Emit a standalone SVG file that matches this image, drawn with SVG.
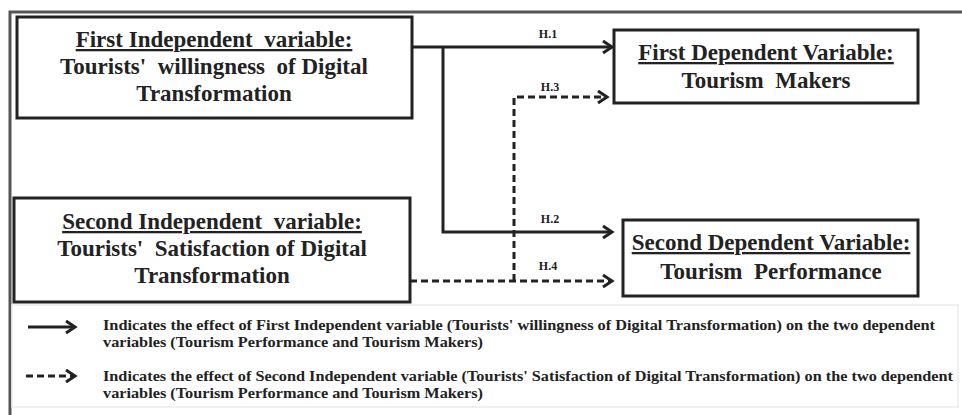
<svg xmlns="http://www.w3.org/2000/svg" width="962" height="415" viewBox="0 0 962 415">
  <style>
    .box{fill:#fff;stroke:#222;stroke-width:3}
    .t{font-family:"Liberation Serif","Times New Roman",serif;font-weight:bold;fill:#222;text-anchor:middle;white-space:pre}
    .big{font-size:23px}
    .u{text-decoration:underline}
    .lbl{font-size:12px}
    .leg{font-size:14px;text-anchor:start}
    .solid{fill:none;stroke:#222;stroke-width:3}
    .dash{fill:none;stroke:#222;stroke-width:3;stroke-dasharray:7 4}
  </style>
  <defs>
    <marker id="ah" markerWidth="14" markerHeight="14" refX="11" refY="7" orient="auto" markerUnits="userSpaceOnUse">
      <path d="M2,1 L11,7 L2,13" fill="none" stroke="#222" stroke-width="3"/>
    </marker>
  </defs>

  <rect width="962" height="415" fill="#fff"/>
  <!-- outer frame -->
  <path d="M10,415 V12 H962" fill="none" stroke="#555" stroke-width="3"/>
  <!-- legend panel -->
  <rect x="12" y="305" width="946" height="102" fill="none" stroke="#ececec" stroke-width="1.5"/>

  <g id="iv1">
    <rect class="box" x="17" y="17" width="395" height="101"/>
    <text class="t big u" x="214" y="47" xml:space="preserve">First Independent  variable:</text>
    <text class="t big" x="214" y="74" xml:space="preserve">Tourists'  willingness  of Digital</text>
    <text class="t big" x="214" y="101">Transformation</text>
  </g>

  <g id="dv1">
    <rect class="box" x="614" y="30" width="304" height="73"/>
    <text class="t big u" x="766" y="60">First Dependent Variable:</text>
    <text class="t big" x="766" y="88" xml:space="preserve">Tourism  Makers</text>
  </g>

  <g id="iv2">
    <rect class="box" x="14" y="198" width="396" height="104"/>
    <text class="t big u" x="212" y="229" xml:space="preserve">Second Independent  variable:</text>
    <text class="t big" x="212" y="256" xml:space="preserve">Tourists'  Satisfaction of Digital</text>
    <text class="t big" x="212" y="283">Transformation</text>
  </g>

  <g id="dv2">
    <rect class="box" x="623" y="220" width="295" height="76"/>
    <text class="t big u" x="771" y="250">Second Dependent Variable:</text>
    <text class="t big" x="771" y="279" xml:space="preserve">Tourism  Performance</text>
  </g>

  <g id="connectors">
    <path class="solid" d="M412,47 H612" marker-end="url(#ah)"/>
    <path class="solid" d="M443,47 V232 H612" marker-end="url(#ah)"/>
    <path class="dash" d="M514,281 V97 H607" marker-end="url(#ah)"/>
    <path class="dash" d="M410,281 H612" marker-end="url(#ah)"/>
    <text class="t lbl" x="548" y="38">H.1</text>
    <text class="t lbl" x="550" y="91">H.3</text>
    <text class="t lbl" x="550" y="223">H.2</text>
    <text class="t lbl" x="548" y="270">H.4</text>
  </g>

  <g id="legend">
    <path class="solid" d="M28,327 H75" marker-end="url(#ah)"/>
    <path class="dash" d="M26,376 H75" marker-end="url(#ah)"/>
    <text class="t leg" x="103" y="330" textLength="832" lengthAdjust="spacingAndGlyphs">Indicates the effect of First Independent variable (Tourists' willingness of Digital Transformation) on the two dependent</text>
    <text class="t leg" x="103" y="347" textLength="380" lengthAdjust="spacingAndGlyphs">variables (Tourism Performance and Tourism Makers)</text>
    <text class="t leg" x="103" y="381" textLength="850" lengthAdjust="spacingAndGlyphs">Indicates the effect of Second Independent variable (Tourists' Satisfaction of Digital Transformation) on the two dependent</text>
    <text class="t leg" x="103" y="398" textLength="380" lengthAdjust="spacingAndGlyphs">variables (Tourism Performance and Tourism Makers)</text>
  </g>
</svg>
